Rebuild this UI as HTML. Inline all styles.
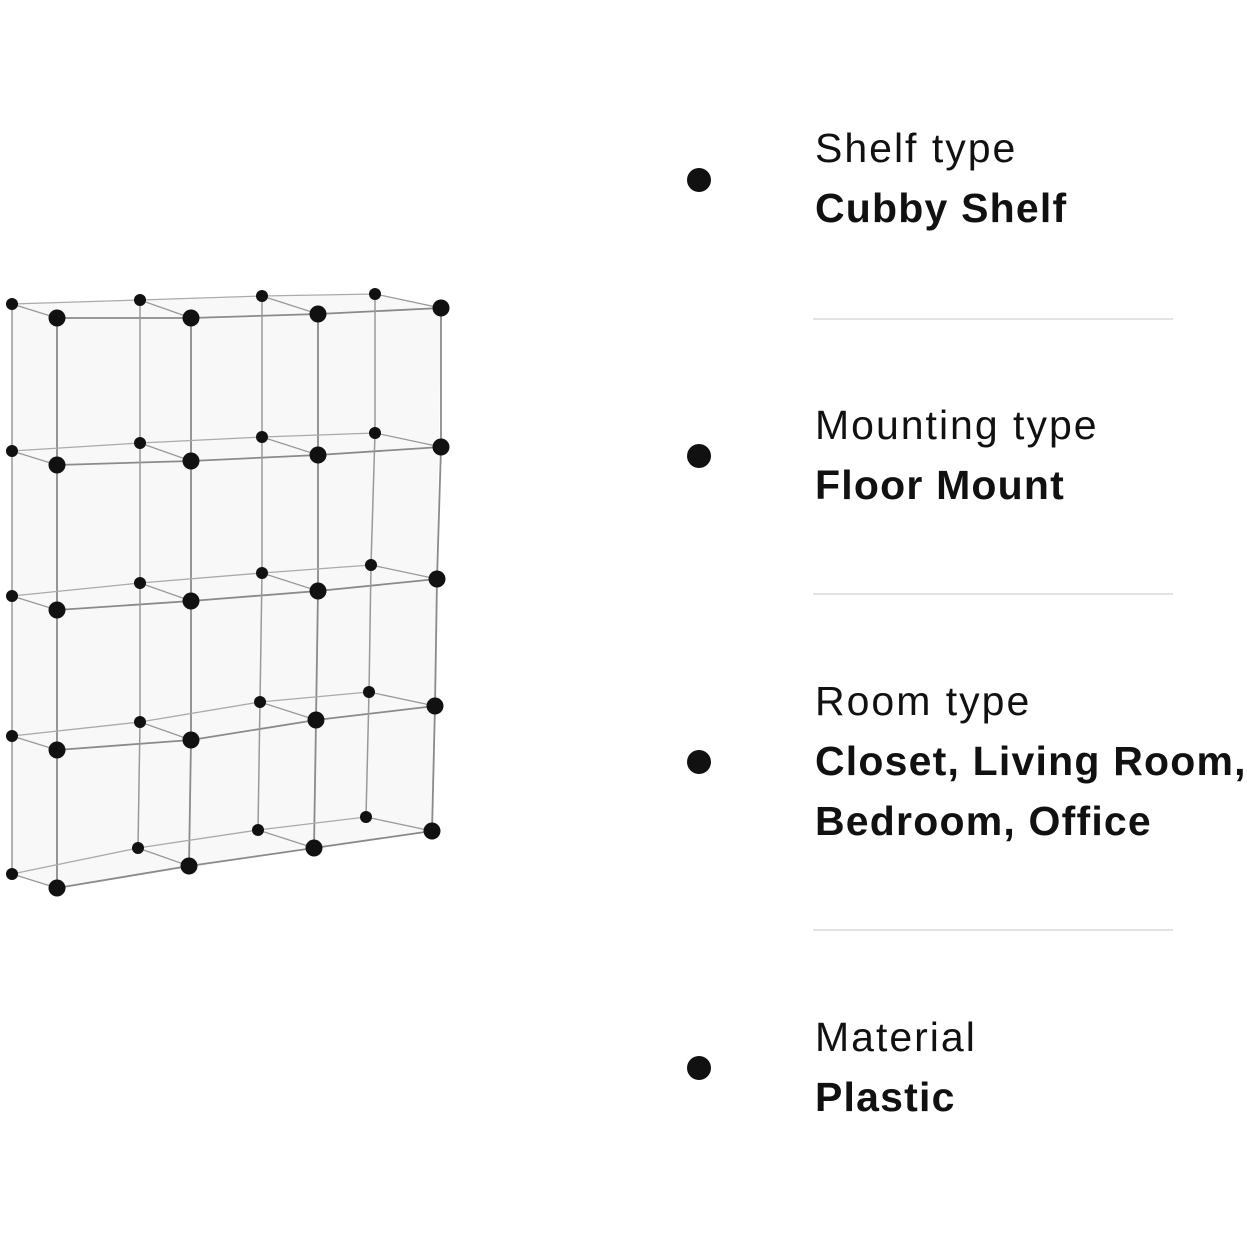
<!DOCTYPE html>
<html><head><style>
body{margin:0;width:1247px;height:1247px;background:#fff;position:relative;overflow:hidden;font-family:"Liberation Sans",sans-serif;color:#111}
.t{position:absolute;left:815px;font-size:41px;line-height:60px;white-space:nowrap;letter-spacing:2px}
.b{font-weight:bold;letter-spacing:1.2px}
.dot{position:absolute;left:687px;width:24px;height:24px;border-radius:50%;background:#111}
.hr{position:absolute;left:813px;width:360px;height:2px;background:#e3e3e3}
</style></head><body>
<svg id="s" width="460" height="920" style="position:absolute;left:0;top:0"></svg>
<div class="dot" style="top:168px"></div>
<div class="t" style="top:118px">Shelf type</div>
<div class="t b" style="top:178px">Cubby Shelf</div>
<div class="hr" style="top:318px"></div>
<div class="dot" style="top:444px"></div>
<div class="t" style="top:395px">Mounting type</div>
<div class="t b" style="top:455px">Floor Mount</div>
<div class="hr" style="top:593px"></div>
<div class="dot" style="top:750px"></div>
<div class="t" style="top:671px">Room type</div>
<div class="t b" style="top:731px">Closet, Living Room,</div>
<div class="t b" style="top:791px">Bedroom, Office</div>
<div class="hr" style="top:929px"></div>
<div class="dot" style="top:1056px"></div>
<div class="t" style="top:1007px">Material</div>
<div class="t b" style="top:1067px">Plastic</div>
<script>
var F=[[[57,318],[191,318],[318,314],[441,308]],
[[57,465],[191,461],[318,455],[441,447]],
[[57,610],[191,601],[318,591],[437,579]],
[[57,750],[191,740],[316,720],[435,706]],
[[57,888],[189,866],[314,848],[432,831]]];
var off=[[-45,-14],[-51,-18],[-56,-18],[-66,-14]];
function B(r,c){return [F[r][c][0]+off[c][0],F[r][c][1]+off[c][1]];}
var s='';
function L(a,b,w,col){s+='<line x1="'+a[0]+'" y1="'+a[1]+'" x2="'+b[0]+'" y2="'+b[1]+'" stroke="'+(col||'#8a8a8a')+'" stroke-width="'+(w||1.8)+'"/>';}
s+='<polygon points="'+[B(0,0),B(0,3),F[0][3],F[4][3],F[4][0],B(4,0)].map(function(p){return p.join(',')}).join(' ')+'" fill="#f8f8f8"/>';
for(var r=0;r<5;r++){for(var c=0;c<4;c++){
 if(c<3){L(F[r][c],F[r][c+1]);L(B(r,c),B(r,c+1),1.3,'#aaa');}
 if(r<4){L(F[r][c],F[r+1][c]);L(B(r,c),B(r+1,c),1.5,'#999');}
 L(F[r][c],B(r,c),1.3,'#999');
}}
for(var r=0;r<5;r++)for(var c=0;c<4;c++){var b=B(r,c);s+='<circle cx="'+b[0]+'" cy="'+b[1]+'" r="6" fill="#111"/>';}
for(var r=0;r<5;r++)for(var c=0;c<4;c++){var f=F[r][c];s+='<circle cx="'+f[0]+'" cy="'+f[1]+'" r="8.5" fill="#111"/>';}
document.getElementById('s').innerHTML=s;
</script>
</body></html>
